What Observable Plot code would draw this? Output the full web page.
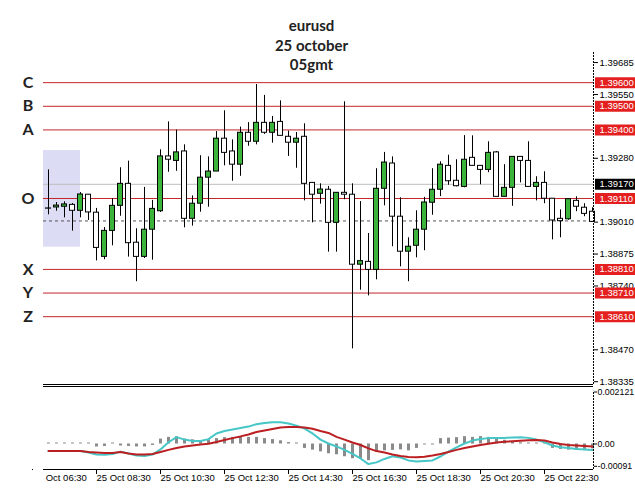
<!DOCTYPE html>
<html><head><meta charset="utf-8">
<script src="https://cdn.jsdelivr.net/npm/d3@7"></script>
<script src="https://cdn.jsdelivr.net/npm/@observablehq/plot@0.6"></script>
<style>
body{margin:0;background:#fff;}
#wrap{position:relative;width:635px;height:489px;overflow:hidden;background:#fff;}
#main,#macd{position:absolute;left:0;}
#main{top:0}
#macd{top:386px}
#mask{position:absolute;left:0;top:470px;width:43px;height:19px;background:#fff;}
</style></head><body>
<div id="wrap"><div id="main"></div><div id="macd"></div><div id="mask"></div></div>
<script>
// ---- data ----
const titleLines = ["eurusd", "25 october", "05gmt"];
const firstBarTime = "07:00";      // first visible M15 bar
const barMinutes = 15;
const opens = [
1.39068,1.39072,1.39075,1.39083,1.39058,1.39126,1.39050,1.38863,1.38973,1.39079,
1.39172,1.38923,1.38863,1.38978,1.39056,1.39288,1.39269,1.39309,1.39024,1.39088,
1.39198,1.39224,1.39363,1.39309,1.39253,1.39388,1.39350,1.39430,1.39388,1.39434,
1.39371,1.39346,1.39371,1.39176,1.39130,1.39147,1.39007,1.39134,1.39126,1.38830,
1.38842,1.38808,1.39151,1.39258,1.39033,1.38885,1.38910,1.38978,1.39092,1.39147,
1.39248,1.39185,1.39159,1.39282,1.39248,1.39231,1.39305,1.39117,1.39155,1.39286,
1.39269,1.39159,1.39176,1.39109,1.39024,1.39022,1.39100,1.39071,1.39054];
const highs = [
1.39231,1.39093,1.39096,1.39089,1.39135,1.39126,1.39068,1.38987,1.39109,1.39240,
1.39268,1.38982,1.39157,1.39102,1.39316,1.39434,1.39399,1.39337,1.39121,1.39291,
1.39286,1.39393,1.39481,1.39358,1.39412,1.39431,1.39592,1.39546,1.39457,1.39523,
1.39395,1.39389,1.39426,1.39176,1.39172,1.39161,1.39134,1.39519,1.39172,1.39097,
1.38962,1.39236,1.39305,1.39286,1.39113,1.38944,1.39058,1.39115,1.39236,1.39265,
1.39293,1.39274,1.39376,1.39375,1.39248,1.39350,1.39309,1.39253,1.39286,1.39286,
1.39350,1.39202,1.39223,1.39109,1.39062,1.39107,1.39117,1.39088,1.39071];
const lows = [
1.39041,1.39056,1.39028,1.38972,1.39028,1.39017,1.38846,1.38851,1.38910,1.39035,
1.38862,1.38758,1.38856,1.38849,1.39051,1.39221,1.39225,1.38986,1.38993,1.39052,
1.39073,1.39224,1.39248,1.39183,1.39204,1.39331,1.39337,1.39381,1.39344,1.39375,
1.39288,1.39238,1.39100,1.39007,1.39086,1.38883,1.38883,1.39105,1.38474,1.38722,
1.38698,1.38766,1.39079,1.38906,1.38821,1.38758,1.38859,1.38889,1.39039,1.39118,
1.39166,1.39159,1.39155,1.39248,1.39168,1.39219,1.39117,1.39117,1.39077,1.39176,
1.39159,1.39100,1.39088,1.38935,1.38944,1.39018,1.39054,1.39033,1.39011];
const closes = [
1.39067,1.39080,1.39085,1.39058,1.39127,1.39051,1.38901,1.38973,1.39079,1.39172,
1.38921,1.38863,1.38978,1.39066,1.39288,1.39274,1.39305,1.39024,1.39088,1.39198,
1.39224,1.39363,1.39303,1.39253,1.39388,1.39350,1.39430,1.39388,1.39430,1.39375,
1.39346,1.39363,1.39172,1.39126,1.39148,1.39007,1.39134,1.39126,1.38830,1.38845,
1.38808,1.39151,1.39262,1.39033,1.38885,1.38906,1.38978,1.39093,1.39147,1.39253,
1.39183,1.39162,1.39274,1.39248,1.39231,1.39303,1.39117,1.39155,1.39286,1.39269,
1.39159,1.39176,1.39109,1.39017,1.39014,1.39107,1.39075,1.39045,1.39011];

const macdLine = [
-0.00029,-0.00029,-0.00029,-0.00029,-0.00029,-0.00035,-0.00043,-0.00044,-0.00041,-0.00031,
-0.00039,-0.00047,-0.00049,-0.00043,-0.00022,0.00007,0.00028,0.00018,0.00012,0.00012,
0.00020,0.00043,0.00053,0.00059,0.00065,0.00071,0.00081,0.00086,0.00089,0.00089,
0.00084,0.00075,0.00063,0.00043,0.00018,0.00002,-0.00010,-0.00024,-0.00040,-0.00059,
-0.00082,-0.00075,-0.00061,-0.00050,-0.00055,-0.00067,-0.00071,-0.00069,-0.00067,-0.00051,
-0.00031,-0.00014,0.00002,0.00014,0.00020,0.00024,0.00024,0.00024,0.00027,0.00028,
0.00025,0.00018,0.00007,-0.00006,-0.00013,-0.00016,-0.00020,-0.00022,-0.00024];
const signalLine = [
-0.00029,-0.00029,-0.00029,-0.00029,-0.00029,-0.00033,-0.00035,-0.00037,-0.00037,-0.00033,
-0.00039,-0.00043,-0.00043,-0.00041,-0.00033,-0.00024,-0.00016,-0.00010,-0.00006,-0.00002,
0.00001,0.00008,0.00016,0.00024,0.00031,0.00039,0.00049,0.00055,0.00061,0.00067,
0.00069,0.00069,0.00067,0.00062,0.00053,0.00045,0.00029,0.00018,0.00006,-0.00004,
-0.00018,-0.00029,-0.00035,-0.00043,-0.00049,-0.00053,-0.00054,-0.00052,-0.00047,-0.00041,
-0.00033,-0.00024,-0.00016,-0.00010,-0.00004,0.00001,0.00006,0.00009,0.00011,0.00013,
0.00015,0.00016,0.00014,0.00006,0.00000,-0.00004,-0.00006,-0.00008,-0.00010];
const histogram = [
0.00004,0.00004,0.00004,0.00004,0.00004,0.00004,-0.00012,-0.00010,0.00004,-0.00008,
-0.00010,-0.00012,-0.00012,-0.00006,0.00020,0.00027,0.00030,0.00020,0.00017,0.00014,
0.00016,0.00022,0.00026,0.00027,0.00027,0.00027,0.00027,0.00022,0.00018,0.00013,
0.00006,0.00004,-0.00018,-0.00025,-0.00032,-0.00040,-0.00044,-0.00052,-0.00060,-0.00062,
-0.00068,-0.00034,-0.00028,-0.00026,-0.00024,-0.00028,-0.00018,-0.00004,-0.00004,0.00022,
0.00024,0.00026,0.00030,0.00027,0.00030,0.00027,0.00022,0.00015,0.00010,0.00005,
0.00004,0.00004,0.00004,-0.00018,-0.00022,-0.00025,-0.00025,-0.00022,-0.00020];

const levelNames = ["C", "B", "A", "O", "X", "Y", "Z"];
const levelPrices = [1.39600, 1.39500, 1.39400, 1.39110, 1.38810, 1.38710, 1.38610];
const bidPrice = 1.39170;
const dashedPrice = 1.39015;
const sessionBoxPrices = [1.38904, 1.39313];
const sessionBoxEndTime = "08:00";
const priceTicks = [1.39685, 1.39550, 1.39280, 1.39010, 1.38875, 1.38740, 1.38470, 1.38335];
const timeTickTimes = ["06:30", "08:30", "10:30", "12:30", "14:30", "16:30", "18:30", "20:30", "22:30"];
const timeTickLabels = timeTickTimes.map(t => "25 Oct " + t);
const macdTicks = [0.002121, 0, -0.00091];
const macdTickLabels = ["0.002121", "0.00", "-0.00091"];

// ---- helpers ----
const toMin = t => { const [h, m] = t.split(":").map(Number); return h * 60 + m; };
const barIndex = t => (toMin(t) - toMin(firstBarTime)) / barMinutes;
const bars = opens.map((o, i) => ({i, open: o, high: highs[i], low: lows[i], close: closes[i], up: closes[i] > o}));
const macdRows = macdLine.map((v, i) => ({i, macd: v, signal: signalLine[i], hist: histogram[i]}));

const xDomain = [-0.625, 68.125];
const yDomain = [1.383232, 1.399475];
const macdDomain = [-0.0010404, 0.002346];
const FONT = "'Liberation Sans', Arial, sans-serif";
const RED = "#c3262b";
const BOXRED = "#e3201f";
const fmt5 = d3.format(".5f");

const main = Plot.plot({
  width: 635, height: 386,
  marginLeft: 43, marginRight: 42, marginTop: 0, marginBottom: 2,
  x: {domain: xDomain, axis: null, label: null},
  y: {domain: yDomain, axis: null, label: null},
  style: {fontFamily: FONT, fontSize: "9.5px", background: "white", color: "black"},
  marks: [
    Plot.rect([sessionBoxPrices], {x1: () => xDomain[0], x2: () => barIndex(sessionBoxEndTime), y1: d => d[0], y2: d => d[1], fill: "#dcdcf4"}),
    Plot.ruleY([bidPrice], {stroke: "#bdbdbd"}),
    Plot.ruleY([dashedPrice], {stroke: "#555", strokeDasharray: "3,3"}),
    Plot.ruleY(levelPrices, {stroke: RED}),
    Plot.ruleY([yDomain[0]], {stroke: "black"}),
    Plot.ruleX(bars, {x: "i", y1: "low", y2: "high", stroke: "black"}),
    Plot.rect(bars, {x1: d => d.i - 0.3125, x2: d => d.i + 0.3125, y1: "open", y2: "close",
      fill: d => d.up ? "#3cb43c" : "white", stroke: "black"}),
    Plot.ruleX([xDomain[1]], {y1: yDomain[0], y2: 1.39730, stroke: "black", strokeDasharray: "2,1"}),
    Plot.axisY(priceTicks, {anchor: "right", label: null, tickSize: 4, tickPadding: 2, tickFormat: fmt5, fontSize: 9.5}),
    Plot.ruleY(levelPrices, {x1: () => xDomain[1] + 0.25, x2: () => xDomain[1] + 6, stroke: BOXRED, strokeWidth: 11}),
    Plot.ruleY([bidPrice], {x1: () => xDomain[1] + 0.25, x2: () => xDomain[1] + 6, stroke: "black", strokeWidth: 11}),
    Plot.text(levelPrices, {x: () => xDomain[1], y: d => d, dx: 6, text: fmt5, fill: "white", textAnchor: "start", fontSize: 9.5}),
    Plot.text([bidPrice], {x: () => xDomain[1], y: d => d, dx: 6, text: fmt5, fill: "white", textAnchor: "start", fontSize: 9.5}),
    Plot.text(levelNames, {x: () => xDomain[0], y: (d, i) => levelPrices[i], text: d => d, dx: -15.5,
      fontFamily: "Lato", fontWeight: "bold", fontSize: 16, fill: "#222"}),
    Plot.text([titleLines.join("\n")], {frameAnchor: "top", dx: -7, dy: 17, lineAnchor: "top", lineHeight: 1.3,
      fontFamily: "Lato", fontWeight: "bold", fontSize: 15, fill: "#222"})
  ]
});
document.getElementById("main").appendChild(main);

const macd = Plot.plot({
  width: 635, height: 103,
  marginLeft: 43, marginRight: 42, marginTop: 0, marginBottom: 20,
  x: {domain: xDomain, label: null},
  y: {domain: macdDomain, axis: null, label: null},
  style: {fontFamily: FONT, fontSize: "9.5px", background: "white", color: "black"},
  marks: [
    Plot.ruleY([macdDomain[1]], {stroke: "black"}),
    Plot.ruleY([macdDomain[0]], {stroke: "black"}),
    Plot.ruleX(macdRows, {x: "i", y1: 0, y2: "hist", stroke: "#8a8a8a", strokeWidth: 3}),
    Plot.line(macdRows, {x: "i", y: "macd", stroke: "#46c6c6", strokeWidth: 2}),
    Plot.line(macdRows, {x: "i", y: "signal", stroke: "#bb1f22", strokeWidth: 2}),
    Plot.ruleX([xDomain[1]], {y1: macdDomain[0], y2: 0.00215, stroke: "black", strokeDasharray: "2,1"}),
    Plot.axisY(macdTicks, {anchor: "right", label: null, tickSize: 3, tickPadding: 1, tickFormat: (d, i) => macdTickLabels[i], fontSize: 8.8}),
    Plot.axisX(timeTickTimes.map(barIndex), {label: null, tickSize: 5, tickPadding: 0, textAnchor: "start",
      tickFormat: (d, i) => timeTickLabels[i], fontSize: 9.5})
  ]
});
document.getElementById("macd").appendChild(macd);
</script>
</body></html>
